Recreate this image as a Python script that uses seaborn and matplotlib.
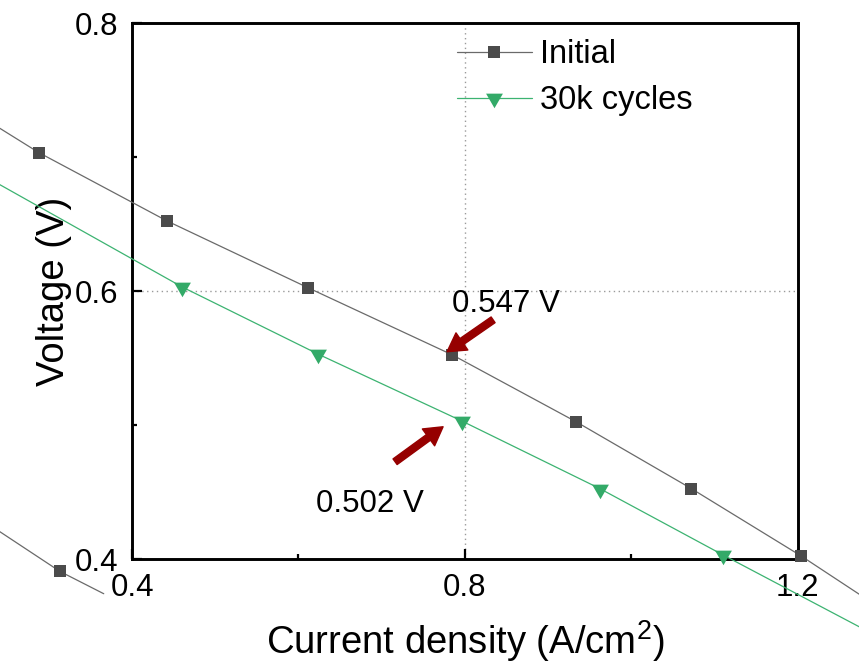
import numpy as np
import pandas as pd
import matplotlib
matplotlib.use("Agg")
import matplotlib.pyplot as plt
from matplotlib.path import Path
import seaborn as sns

# Polarization curves: current density (A/cm2) vs cell voltage (V)
initial_j = [0.160, 0.288, 0.442, 0.612, 0.785, 0.934, 1.072, 1.204, 1.325]
initial_v = [0.753, 0.7035, 0.6525, 0.6025, 0.5525, 0.5025, 0.4528, 0.4025, 0.353]

cycled_j = [0.173, 0.460, 0.624, 0.797, 0.962, 1.110, 1.430]
cycled_v = [0.7033, 0.6033, 0.553, 0.5030, 0.4528, 0.4033, 0.2985]

# short low-voltage trace drawn with the initial-curve style
tail_j = [0.150, 0.3135, 0.366]
tail_v = [0.458, 0.3909, 0.3743]

series_names = ["Initial", "30k cycles"]
x_major = [0.4, 0.8, 1.2]
x_minor = [0.6, 1.0]
y_major = [0.4, 0.6, 0.8]
y_minor = [0.5, 0.7]
j_ref = 0.8

gray_line, gray_mark = "#6a6a6a", "#4b4b4b"
green_line, green_mark = "#3cb371", "#33aa68"
arrow_red = "#960000"

sns.set_style("ticks")
plt.rcParams["font.family"] = ["Liberation Sans", "DejaVu Sans"]
plt.rcParams["mathtext.default"] = "regular"
for key in ("text.color", "axes.labelcolor", "xtick.color", "ytick.color",
            "axes.edgecolor"):
    plt.rcParams[key] = "black"

# downward triangle centred on its centroid
tri = Path([(-1.0, 0.577), (1.0, 0.577), (0.0, -1.155), (-1.0, 0.577)],
           [Path.MOVETO, Path.LINETO, Path.LINETO, Path.CLOSEPOLY])

fig = plt.figure(figsize=(8.59, 6.69), dpi=100)
ax = fig.add_axes([0.1537, 0.1640, 0.7750, 0.8012])

df_init = pd.DataFrame({"j": initial_j, "v": initial_v})
df_cyc = pd.DataFrame({"j": cycled_j, "v": cycled_v})
df_tail = pd.DataFrame({"j": tail_j, "v": tail_v})

sq_kw = dict(marker="s", markersize=9.2, markerfacecolor=gray_mark,
             markeredgecolor=gray_mark, markeredgewidth=0)

sns.lineplot(data=df_init, x="j", y="v", ax=ax, color=gray_line, lw=0.9,
             clip_on=False, label=series_names[0], zorder=4, **sq_kw)
sns.lineplot(data=df_cyc, x="j", y="v", ax=ax, color=green_line, lw=0.9,
             marker=tri, markersize=14, markerfacecolor=green_mark,
             markeredgecolor=green_mark, markeredgewidth=0,
             clip_on=False, label=series_names[1], zorder=4)
sns.lineplot(data=df_tail, x="j", y="v", ax=ax, color=gray_line, lw=0.9,
             markevery=[1], clip_on=False, label="_tail", zorder=4, **sq_kw)

ax.set_xlim(x_major[0], x_major[-1])
ax.set_ylim(y_major[0], y_major[-1])
ax.set_xticks(x_major)
ax.set_xticks(x_minor, minor=True)
ax.set_yticks(y_major)
ax.set_yticks(y_minor, minor=True)
ax.set_xticklabels([f"{t:.1f}" for t in x_major])
ax.set_yticklabels([f"{t:.1f}" for t in y_major])

ax.tick_params(which="both", direction="in", top=False, right=False,
               width=1.6, color="black")
ax.tick_params(axis="x", which="major", length=7, pad=10, labelsize=22.5)
ax.tick_params(axis="y", which="major", length=7, pad=10, labelsize=22.5)
ax.tick_params(which="minor", length=3.5)

for sp in ax.spines.values():
    sp.set_linewidth(2.1)
    sp.set_color("black")

ax.grid(True, which="major", ls=(0, (1, 2.5)), color="#9a9a9a", lw=1.0)
ax.set_axisbelow(True)

ax.set_xlabel("Current density (A/cm$^2$)", fontsize=27.5, labelpad=11)
ax.set_ylabel("Voltage (V)", fontsize=27.5, labelpad=2)

# voltages read at the reference current density
v_init_ref = np.interp(j_ref, initial_j, initial_v)
v_cyc_ref = np.interp(j_ref, cycled_j, cycled_v)

arrow_kw = dict(facecolor=arrow_red, edgecolor=arrow_red, width=5.0,
                headwidth=15, headlength=13, shrink=0)
ax.annotate("", xy=(0.7786, 0.5549), xytext=(0.8339, 0.5787),
            arrowprops=arrow_kw, zorder=6, annotation_clip=False)
ax.annotate("", xy=(0.7738, 0.4989), xytext=(0.7161, 0.4728),
            arrowprops=arrow_kw, zorder=6, annotation_clip=False)
ax.text(0.7842, 0.5847, f"{v_init_ref:.3f} V", fontsize=22.5,
        ha="left", va="baseline", zorder=6)
ax.text(0.6208, 0.4354, f"{v_cyc_ref:.3f} V", fontsize=22.5,
        ha="left", va="baseline", zorder=6)

handles, labels = ax.get_legend_handles_labels()
keep = [(h, l) for h, l in zip(handles, labels) if l in series_names]
ax.legend([h for h, _ in keep], [l for _, l in keep], loc="upper left",
          bbox_to_anchor=(0.4878, 0.9700), frameon=False, fontsize=23.5,
          handlelength=2.3, handletextpad=0.26, labelspacing=0.45,
          borderpad=0, borderaxespad=0, numpoints=1)

fig.savefig("out.png", dpi=100)
